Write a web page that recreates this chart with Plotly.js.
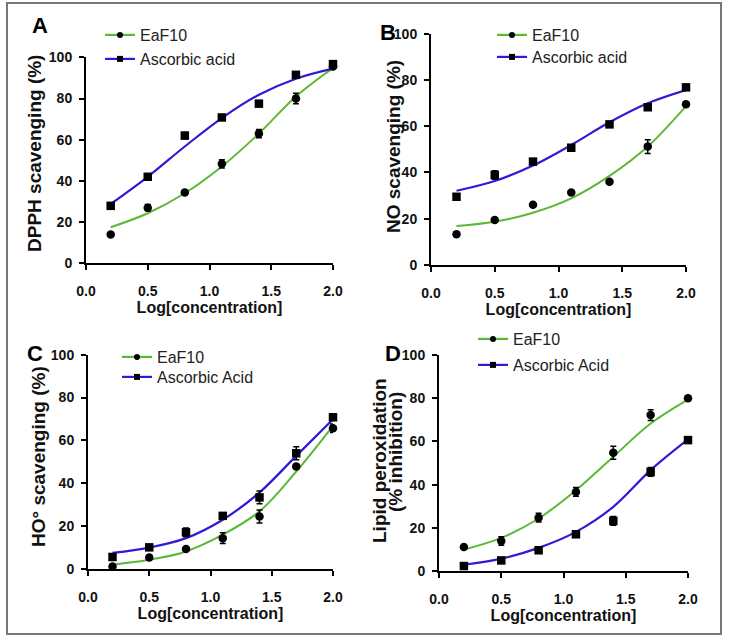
<!DOCTYPE html>
<html>
<head>
<meta charset="utf-8">
<script src="https://cdn.plot.ly/plotly-3.0.1.min.js"></script>
<style>html,body{margin:0;padding:0;background:#fff;}#chart{width:731px;height:644px;}</style>
</head>
<body>
<div id="chart"></div>
<script>
// ---- data ----
var logConc = [0.2, 0.5, 0.8, 1.1, 1.4, 1.7, 2.0];

// Panel A: DPPH
var dpphEaF10      = [14.0, 27.0, 34.4, 48.3, 63.0, 80.0, 95.5];
var dpphEaF10Err   = [0.6, 1.5, 1.0, 2.0, 2.0, 2.5, 1.0];
var dpphAsc        = [27.9, 42.0, 62.0, 70.8, 77.5, 91.5, 96.7];
var dpphAscErr     = [1.0, 1.0, 1.5, 1.0, 1.0, 0.8, 1.2];
var dpphEaF10Fit   = [17.5, 24.3, 34.0, 47.0, 63.0, 81.0, 94.8];
var dpphAscFit     = [28.8, 42.0, 56.7, 70.5, 81.8, 89.6, 94.5];

// Panel B: NO
var noEaF10        = [13.3, 19.5, 26.0, 31.3, 36.0, 51.2, 69.5];
var noEaF10Err     = [0.5, 0.8, 0.6, 0.6, 0.6, 3.0, 1.0];
var noAsc          = [29.5, 38.9, 44.7, 50.7, 60.8, 68.2, 76.8];
var noAscErr       = [1.0, 1.8, 1.0, 1.2, 0.8, 1.0, 1.2];
var noEaF10Fit     = [16.9, 18.7, 22.6, 28.8, 38.5, 51.2, 68.7];
var noAscFit       = [32.1, 36.3, 43.0, 51.9, 61.7, 69.9, 75.6];

// Panel C: HO°
var hoEaF10        = [1.2, 5.4, 9.3, 14.4, 24.5, 47.8, 65.7];
var hoEaF10Err     = [0.5, 0.8, 1.0, 2.5, 3.0, 1.0, 2.0];
var hoAsc          = [5.6, 10.1, 17.1, 24.8, 33.4, 54.0, 70.8];
var hoAscErr       = [0.8, 0.8, 2.0, 1.2, 3.0, 3.0, 1.5];
var hoEaF10Fit     = [2.0, 4.3, 8.2, 16.0, 26.9, 45.5, 66.8];
var hoAscFit       = [7.5, 10.0, 14.4, 23.0, 35.7, 52.8, 69.9];

// Panel D: lipid peroxidation
var lpEaF10        = [11.1, 13.9, 24.7, 36.6, 54.7, 72.2, 80.0];
var lpEaF10Err     = [0.6, 2.0, 2.0, 2.0, 3.0, 2.5, 0.6];
var lpAsc          = [2.3, 4.9, 9.6, 17.0, 23.2, 45.9, 60.6];
var lpAscErr       = [0.8, 0.6, 0.8, 1.2, 2.0, 2.0, 1.5];
var lpEaF10Fit     = [9.9, 15.3, 24.3, 37.4, 52.9, 68.3, 79.4];
var lpAscFit       = [2.9, 5.7, 10.7, 18.1, 29.7, 46.7, 60.9];

var seriesNames = {A: ['EaF10', 'Ascorbic acid'], B: ['EaF10', 'Ascorbic acid'],
                   C: ['EaF10', 'Ascorbic Acid'], D: ['EaF10', 'Ascorbic Acid']};
var yTitles = {A: ['DPPH scavenging (%)'], B: ['NO scavenging (%)'],
               C: ['HO° scavenging (%)'], D: ['Lipid peroxidation', '(% inhibition)']};
var xTitle = 'Log[concentration]';
var xTicks = [0.0, 0.5, 1.0, 1.5, 2.0];
var yTicks = [0, 20, 40, 60, 80, 100];

// ---- styles / layout ----
var W = 731, H = 644;
var GREEN = '#5bb834', BLUE = '#2f1ad6';
var FONT = 'Liberation Sans, Arial, sans-serif';

var panels = {
  A: {ax: '', px: [86, 333], py: [263.3, 57.3], ef: dpphEaF10, efe: dpphEaF10Err, as: dpphAsc, ase: dpphAscErr, eff: dpphEaF10Fit, asf: dpphAscFit,
      letter: [40, 25], leg: [[100, 35], [100, 59]], ytPos: [[35, 154]]},
  B: {ax: '2', px: [431, 686], py: [265, 33.7], ef: noEaF10, efe: noEaF10Err, as: noAsc, ase: noAscErr, eff: noEaF10Fit, asf: noAscFit,
      letter: [388, 33], leg: [[492, 35], [492, 57]], ytPos: [[393, 147]]},
  C: {ax: '3', px: [88, 333], py: [569, 354.7], ef: hoEaF10, efe: hoEaF10Err, as: hoAsc, ase: hoAscErr, eff: hoEaF10Fit, asf: hoAscFit,
      letter: [35, 353], leg: [[117, 357], [117, 377]], ytPos: [[38, 457]]},
  D: {ax: '4', px: [439, 688], py: [571, 355], ef: lpEaF10, efe: lpEaF10Err, as: lpAsc, ase: lpAscErr, eff: lpEaF10Fit, asf: lpAscFit,
      letter: [393, 353], leg: [[473, 339], [473, 365]], ytPos: [[379, 461], [395, 452]]}
};

var traces = [];
var layout = {
  width: W, height: H, margin: {l: 0, r: 0, t: 0, b: 0},
  paper_bgcolor: '#fff', plot_bgcolor: 'rgba(0,0,0,0)',
  showlegend: true, annotations: [], shapes: [],
  font: {family: FONT, color: '#111'}
};

var legIndex = 1;
function legName(i) { return i === 1 ? 'legend' : 'legend' + i; }

Object.keys(panels).forEach(function (key) {
  var p = panels[key];
  var xa = 'x' + p.ax, ya = 'y' + p.ax;
  var xKey = 'xaxis' + p.ax, yKey = 'yaxis' + p.ax;
  var axisCommon = {
    showline: true, linecolor: '#000', linewidth: 2, mirror: false,
    ticks: 'outside', ticklen: 5, tickwidth: 2, tickcolor: '#000',
    showgrid: false, zeroline: false, fixedrange: true,
    tickfont: {family: FONT, size: 14, weight: 700, color: '#111'}
  };
  layout[xKey] = Object.assign({}, axisCommon, {
    domain: [p.px[0] / W, p.px[1] / W], range: [0, 2], anchor: ya,
    tickvals: xTicks, ticktext: xTicks.map(function (v) { return v.toFixed(1); }),
    ticklabelstandoff: 9,
    title: {text: xTitle, font: {family: FONT, size: 16, weight: 700, color: '#111'}, standoff: 4}
  });
  layout[yKey] = Object.assign({}, axisCommon, {
    domain: [1 - p.py[0] / H, 1 - p.py[1] / H], range: [0, 100], anchor: xa,
    tickvals: yTicks, ticklabelstandoff: 4
  });

  // y-axis title lines (rotated text, placed to match the reference)
  yTitles[key].forEach(function (t, j) {
    layout.annotations.push({text: '<b>' + t + '</b>', textangle: -90,
      x: p.ytPos[j][0] / W, y: 1 - p.ytPos[j][1] / H, xref: 'paper', yref: 'paper',
      xanchor: 'center', yanchor: 'middle', showarrow: false,
      font: {family: FONT, size: 19, color: '#111'}});
  });

  // fitted curves
  traces.push({x: logConc, y: p.eff, xaxis: xa, yaxis: ya, mode: 'lines', line: {color: GREEN, width: 2, shape: 'spline'}, showlegend: false, hoverinfo: 'skip'});
  traces.push({x: logConc, y: p.asf, xaxis: xa, yaxis: ya, mode: 'lines', line: {color: BLUE, width: 2.2, shape: 'spline'}, showlegend: false, hoverinfo: 'skip'});
  // data points
  traces.push({x: logConc, y: p.ef, xaxis: xa, yaxis: ya, mode: 'markers', cliponaxis: false,
    marker: {symbol: 'circle', size: 8.5, color: '#000'},
    error_y: {type: 'data', array: p.efe, visible: true, color: '#000', thickness: 1.5, width: 3}, showlegend: false});
  traces.push({x: logConc, y: p.as, xaxis: xa, yaxis: ya, mode: 'markers', cliponaxis: false,
    marker: {symbol: 'square', size: 8.5, color: '#000'},
    error_y: {type: 'data', array: p.ase, visible: true, color: '#000', thickness: 1.5, width: 3}, showlegend: false});

  // legend entries (one legend per entry for exact placement)
  [[seriesNames[key][0], GREEN, 'circle'], [seriesNames[key][1], BLUE, 'square']].forEach(function (s, j) {
    var ln = legName(legIndex++);
    traces.push({x: [null], y: [null], xaxis: xa, yaxis: ya, mode: 'lines+markers', name: s[0],
      line: {color: s[1], width: 2.2}, marker: {symbol: s[2], size: 6, color: '#000'}, legend: ln, showlegend: true});
    layout[ln] = {x: p.leg[j][0] / W, y: 1 - p.leg[j][1] / H, xanchor: 'left', yanchor: 'middle',
      xref: 'paper', yref: 'paper', bgcolor: 'rgba(0,0,0,0)', borderwidth: 0,
      font: {family: FONT, size: 16, color: '#222'}, itemclick: false, itemdoubleclick: false};
  });

  // panel letter
  layout.annotations.push({text: '<b>' + key + '</b>', x: p.letter[0] / W, y: 1 - p.letter[1] / H, xref: 'paper', yref: 'paper',
    xanchor: 'center', yanchor: 'middle', showarrow: false, font: {family: FONT, size: 22, color: '#000'}});
});

// outer frame
layout.shapes.push({type: 'rect', xref: 'paper', yref: 'paper', x0: 7 / W, x1: 721 / W, y0: 1 - 634 / H, y1: 1 - 3 / H,
  line: {color: '#777', width: 2}, fillcolor: 'rgba(0,0,0,0)', layer: 'below'});

Plotly.newPlot('chart', traces, layout, {displayModeBar: false, staticPlot: true});
</script>
</body>
</html>
